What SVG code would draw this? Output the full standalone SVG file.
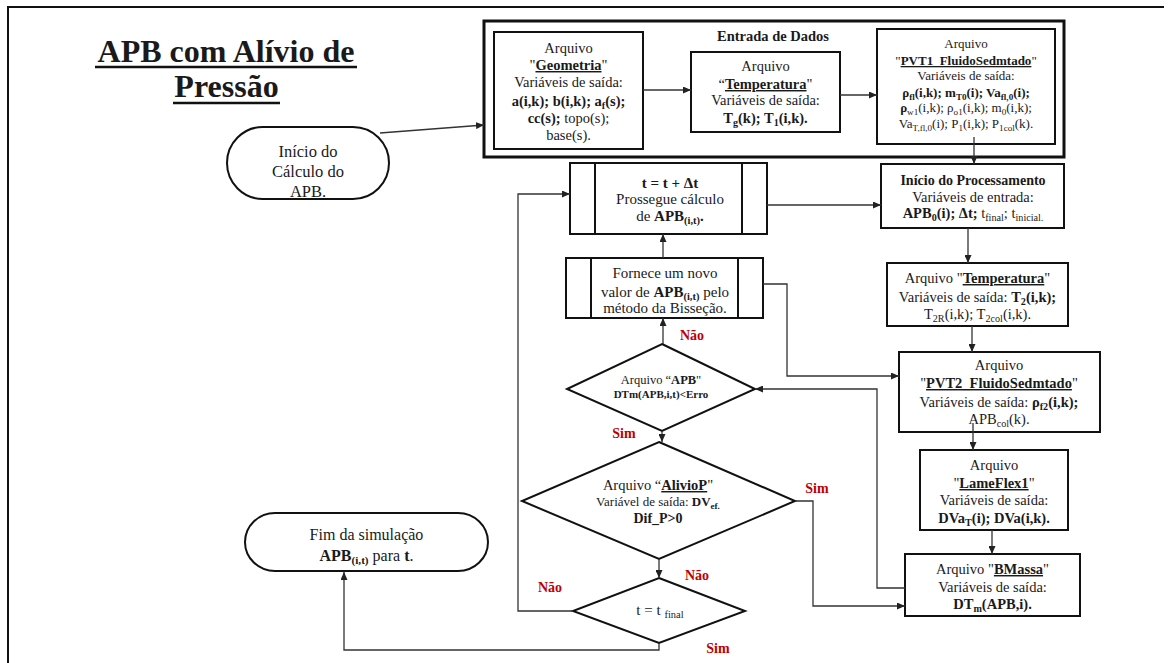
<svg xmlns="http://www.w3.org/2000/svg" width="1169" height="663" viewBox="0 0 1169 663" font-family="'Liberation Serif', 'Times New Roman', 'DejaVu Serif', serif">
<defs>
<marker id="ah" markerWidth="8" markerHeight="7" refX="8" refY="3.5" orient="auto" markerUnits="userSpaceOnUse"><path d="M0,0 L8,3.5 L0,7 Z" fill="#222"/></marker>
</defs>
<style>
text{font-family:'Liberation Serif','Times New Roman','DejaVu Serif',serif;fill:#1a1a1a;text-anchor:middle;font-size:14.5px}
.b{font-weight:bold}
.u{text-decoration:underline}
.sb{font-size:70%;baseline-shift:-3px}
.box{fill:#fff;stroke:#111;stroke-width:2}
.ln{fill:none;stroke:#111;stroke-width:2}
.con{fill:none;stroke:#333;stroke-width:1.3;marker-end:url(#ah)}
.lab{font-size:14px;font-weight:bold;fill:#c00000}
.p13{font-size:13px}
.p15{font-size:15px}
.p16{font-size:16px}
</style>
<rect width="1169" height="663" fill="#fff"/>
<path d="M8,663 V7 H1164" class="ln"/>

<g id="title">
<text x="226" y="62" style="font-size:32px;font-weight:bold">APB com Alívio de</text>
<line x1="95" y1="67" x2="357" y2="67" stroke="#111" stroke-width="2.5"/>
<text x="226.5" y="97" style="font-size:32px;font-weight:bold">Pressão</text>
<line x1="173" y1="103" x2="280" y2="103" stroke="#111" stroke-width="2.5"/>
</g>

<g id="inicio">
<rect x="227" y="127" width="162" height="72" rx="36" ry="36" class="box"/>
<text x="308" y="157" style="font-size:16.5px">Início do</text>
<text x="308" y="177" style="font-size:16.5px">Cálculo do</text>
<text x="308" y="197" style="font-size:16.5px">APB.</text>
</g>

<g id="entrada">
<rect x="484" y="21" width="580" height="136" fill="none" stroke="#111" stroke-width="3"/>
<text x="773" y="41" class="b">Entrada de Dados</text>
</g>

<g id="geometria">
<rect x="494" y="32" width="149" height="117" class="box"/>
<text x="568.5" y="53">Arquivo</text>
<text x="568.5" y="70">"<tspan class="b u">Geometria</tspan>"</text>
<text x="568.5" y="87">Variáveis de saída:</text>
<text x="568.5" y="106" class="b">a(i,k); b(i,k); a<tspan class="sb">f</tspan>(s);</text>
<text x="568.5" y="123"><tspan class="b">cc(s);</tspan> topo(s);</text>
<text x="568.5" y="140">base(s).</text>
</g>

<g id="temperatura1">
<rect x="691" y="52" width="149" height="80" class="box"/>
<text x="765.5" y="71">Arquivo</text>
<text x="765.5" y="89">“<tspan class="b u">Temperatura</tspan>"</text>
<text x="765.5" y="105">Variáveis de saída:</text>
<text x="765.5" y="123" class="b">T<tspan class="sb">g</tspan>(k); T<tspan class="sb">1</tspan>(i,k).</text>
</g>

<g id="pvt1">
<rect x="877" y="29" width="178" height="115" class="box"/>
<text x="966" y="48" class="p13">Arquivo</text>
<text x="966" y="65" class="p13">"<tspan class="b u">PVT1_FluidoSedmtado</tspan>"</text>
<text x="966" y="80" class="p13">Variáveis de saída:</text>
<text x="966" y="97" class="p13 b">ρ<tspan class="sb">fl</tspan>(i,k); m<tspan class="sb">T0</tspan>(i); Va<tspan class="sb">fl,0</tspan>(i);</text>
<text x="966" y="112" class="p13"><tspan class="b">ρ</tspan><tspan class="sb">w1</tspan>(i,k); ρ<tspan class="sb">o1</tspan>(i,k); m<tspan class="sb">0</tspan>(i,k);</text>
<text x="966" y="128" class="p13">Va<tspan class="sb">T,fl,0</tspan>(i); P<tspan class="sb">1</tspan>(i,k); P<tspan class="sb">1col</tspan>(k).</text>
</g>

<g id="processamento">
<rect x="881" y="164" width="183" height="64" class="box"/>
<text x="973" y="185" class="b" style="font-size:14px">Início do Processamento</text>
<text x="973" y="202">Variáveis de entrada:</text>
<text x="973" y="218"><tspan class="b">APB<tspan class="sb">0</tspan>(i); Δt;</tspan> t<tspan class="sb">final</tspan>; t<tspan class="sb">inicial.</tspan></text>
</g>

<g id="temperatura2">
<rect x="887" y="263" width="181" height="63" class="box"/>
<text x="977.5" y="283">Arquivo "<tspan class="b u">Temperatura</tspan>"</text>
<text x="977.5" y="302">Variáveis de saída: <tspan class="b">T<tspan class="sb">2</tspan>(i,k);</tspan></text>
<text x="977.5" y="319">T<tspan class="sb">2R</tspan>(i,k); T<tspan class="sb">2col</tspan>(i,k).</text>
</g>

<g id="pvt2">
<rect x="899" y="352" width="201" height="80" class="box"/>
<text x="999" y="370">Arquivo</text>
<text x="999" y="388">"<tspan class="b u">PVT2_FluidoSedmtado</tspan>"</text>
<text x="999" y="407">Variáveis de saída: <tspan class="b">ρ<tspan class="sb">f2</tspan>(i,k);</tspan></text>
<text x="999" y="424">APB<tspan class="sb">col</tspan>(k).</text>
</g>

<g id="lameflex">
<rect x="920" y="450" width="148" height="80" class="box"/>
<text x="994" y="470">Arquivo</text>
<text x="994" y="488">"<tspan class="b u">LameFlex1</tspan>"</text>
<text x="994" y="505">Variáveis de saída:</text>
<text x="994" y="523" class="b">DVa<tspan class="sb">T</tspan>(i); DVa(i,k).</text>
</g>

<g id="bmassa">
<rect x="905" y="554" width="175" height="62" class="box"/>
<text x="992.5" y="574">Arquivo "<tspan class="b u">BMassa</tspan>"</text>
<text x="992.5" y="592">Variáveis de saída:</text>
<text x="992.5" y="609" class="b">DT<tspan class="sb">m</tspan>(APB,i).</text>
</g>

<g id="passo">
<rect x="570" y="163" width="197" height="71" class="box"/>
<line x1="595" y1="163" x2="595" y2="234" class="ln"/>
<line x1="742" y1="163" x2="742" y2="234" class="ln"/>
<text x="670" y="188" class="b p15">t = t + Δt</text>
<text x="670" y="204" class="p15">Prossegue cálculo</text>
<text x="670" y="221" class="p15">de <tspan class="b">APB<tspan class="sb">(i,t)</tspan>.</tspan></text>
</g>

<g id="bissecao">
<rect x="566" y="258" width="197" height="60" class="box"/>
<line x1="591" y1="258" x2="591" y2="318" class="ln"/>
<line x1="738" y1="258" x2="738" y2="318" class="ln"/>
<text x="665" y="278" class="p15">Fornece um novo</text>
<text x="665" y="297" class="p15">valor de <tspan class="b">APB<tspan class="sb">(i,t)</tspan></tspan> pelo</text>
<text x="665" y="313" class="p15">método da Bisseção.</text>
</g>

<g id="apb">
<polygon points="662,344 755,389 662,431 567,389" class="box"/>
<text x="661" y="384" style="font-size:12.5px">Arquivo “<tspan class="b">APB</tspan>"</text>
<text x="661" y="398" class="b" style="font-size:11px">DTm(APB,i,t)&lt;Erro</text>
</g>

<g id="alivio">
<polygon points="659,442 795,501 659,559 522,501" class="box"/>
<text x="658" y="490">Arquivo “<tspan class="b u">AlivioP</tspan>"</text>
<text x="658" y="506" class="p13">Variável de saída: <tspan class="b">DV<tspan class="sb">ef.</tspan></tspan></text>
<text x="658" y="523" class="b" style="font-size:14px">Dif_P&gt;0</text>
</g>

<g id="tfinal">
<polygon points="659,578 745,611 659,643 573,611" class="box"/>
<text x="660" y="615" class="p15">t = t <tspan class="sb">final</tspan></text>
</g>

<g id="fim">
<rect x="245" y="513" width="243" height="58" rx="30" ry="29" class="box"/>
<text x="366.5" y="540" class="p16">Fim da simulação</text>
<text x="366.5" y="561" class="p16"><tspan class="b">APB<tspan class="sb">(i,t)</tspan></tspan> para <tspan class="b">t</tspan>.</text>
</g>

<g id="connectors">
<path d="M380,133 L484,125" class="con"/>
<path d="M643,90 H691" class="con"/>
<path d="M840,95 H877" class="con"/>
<path d="M974,137 V164" class="con"/>
<path d="M968,228 V263" class="con"/>
<path d="M972,326 V352" class="con"/>
<path d="M973,423 V450" class="con"/>
<path d="M992,530 V554" class="con"/>
<path d="M905,588 H877 V389 H755" class="con"/>
<path d="M795,501 H813 V606 H905" class="con"/>
<path d="M767,205 H881" class="con"/>
<path d="M763,284 H787 V376 H899" class="con"/>
<path d="M663,344 V318" class="con"/>
<path d="M663,258 V234" class="con"/>
<path d="M662,431 V442" class="con"/>
<path d="M659,559 V578" class="con"/>
<path d="M573,611 H518 V194 H570" class="con"/>
<path d="M659,643 V650 H344 V572" class="con"/>
</g>

<g id="labels">
<text x="692" y="340" class="lab">Não</text>
<text x="624" y="438" class="lab">Sim</text>
<text x="817" y="493" class="lab">Sim</text>
<text x="697" y="580" class="lab">Não</text>
<text x="550" y="592" class="lab">Não</text>
<text x="718" y="653" class="lab">Sim</text>
</g>
</svg>
